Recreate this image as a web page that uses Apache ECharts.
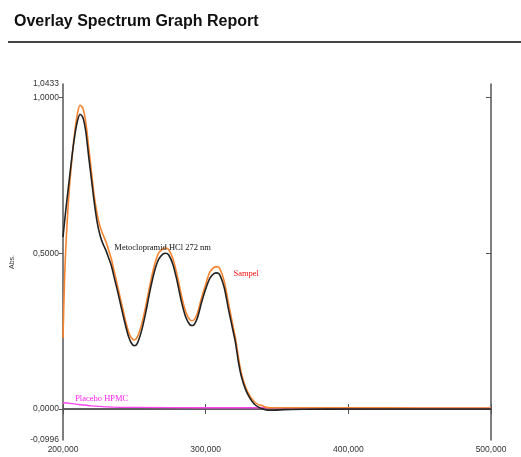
<!DOCTYPE html>
<html>
<head>
<meta charset="utf-8">
<script src="https://cdn.jsdelivr.net/npm/echarts@6/dist/echarts.min.js"></script>
<style>
  html, body { margin: 0; padding: 0; background: #fff; }
  #chart { width: 521px; height: 457px; }
</style>
</head>
<body>
<div id="chart"></div>
<script>
// Reference standard: Metoclopramid HCl (nm, absorbance)
const refNm  = [200, 202, 204, 206, 208, 210, 212, 214, 216, 218, 220, 222, 224, 226, 228, 230, 232, 234, 236, 238, 240, 242, 244, 246, 248, 250, 252, 255, 258, 261, 264, 267, 270, 272, 274, 277, 280, 283, 286, 289, 291, 294, 297, 300, 303, 306, 308, 310, 313, 316, 319, 321, 323, 325, 328, 331, 334, 337, 340, 344, 348, 355, 370, 400, 450, 500];
const refAbs = [0.552, 0.64, 0.72, 0.80, 0.87, 0.922, 0.946, 0.935, 0.89, 0.81, 0.735, 0.66, 0.598, 0.557, 0.53, 0.51, 0.485, 0.458, 0.42, 0.383, 0.343, 0.303, 0.265, 0.232, 0.211, 0.203, 0.21, 0.25, 0.31, 0.38, 0.44, 0.48, 0.497, 0.50, 0.495, 0.465, 0.41, 0.345, 0.295, 0.27, 0.268, 0.29, 0.34, 0.385, 0.42, 0.435, 0.437, 0.43, 0.39, 0.32, 0.255, 0.21, 0.15, 0.105, 0.062, 0.035, 0.016, 0.006, 0.0, -0.004, -0.004, -0.002, -0.001, 0.0, 0.0, 0.0];

// Sample spectrum (Sampel)
const sampleNm  = [200, 201, 202, 204, 206, 208, 210, 212, 214, 216, 218, 220, 222, 224, 226, 228, 230, 232, 234, 236, 238, 240, 242, 244, 246, 248, 250, 252, 255, 258, 261, 264, 267, 270, 272, 274, 277, 280, 283, 286, 289, 291, 294, 297, 300, 303, 306, 308, 310, 313, 316, 319, 321, 323, 325, 328, 331, 334, 337, 340, 342, 345, 350, 400, 450, 500];
const sampleAbs = [0.228, 0.40, 0.52, 0.68, 0.79, 0.88, 0.945, 0.975, 0.965, 0.92, 0.84, 0.76, 0.68, 0.625, 0.585, 0.56, 0.538, 0.51, 0.48, 0.44, 0.40, 0.36, 0.32, 0.28, 0.247, 0.228, 0.222, 0.23, 0.27, 0.33, 0.40, 0.46, 0.50, 0.514, 0.517, 0.512, 0.483, 0.43, 0.365, 0.312, 0.286, 0.284, 0.305, 0.355, 0.40, 0.44, 0.455, 0.457, 0.45, 0.41, 0.34, 0.27, 0.225, 0.165, 0.115, 0.07, 0.042, 0.024, 0.014, 0.01, 0.006, 0.004, 0.004, 0.004, 0.003, 0.003];

// Placebo HPMC blank
const placeboNm  = [200, 205, 210, 220, 230, 250, 300, 350, 400, 450, 500];
const placeboAbs = [0.020, 0.018, 0.015, 0.010, 0.007, 0.005, 0.004, 0.004, 0.003, 0.003, 0.003];

// Axis ticks and labels
const xTicks = [200, 300, 400, 500];
const yMin = -0.0996, yMax = 1.0433;
const yLabelValues = [-0.0996, 0, 0.5, 1, 1.0433];
const yTickValues = [0, 0.5, 1];

// Curve annotations: [nm, absorbance, text]
const refNote = [236, 0.517, 'Metoclopramid HCl 272 nm'];
const sampleNote = [319.5, 0.433, 'Sampel'];
const placeboNote = [208.5, 0.032, 'Placebo HPMC'];

const pair = (xs, ys) => xs.map((x, i) => [x, ys[i]]);
const comma = (v, d) => v.toFixed(d).replace('.', ',');

const axisGray = '#555';
const sans = '"Liberation Sans", Arial, sans-serif';
const serif = '"Liberation Serif", "DejaVu Serif", serif';

function note(n, color) {
  return {
    symbol: 'circle', symbolSize: 0, silent: true,
    data: [{ coord: [n[0], n[1]], value: n[2] }],
    label: {
      show: true, position: 'right', distance: 0,
      formatter: n[2], color: color, fontFamily: serif, fontSize: 8.5
    }
  };
}

const chart = echarts.init(document.getElementById('chart'), null, { renderer: 'canvas' });
chart.setOption({
  animation: false,
  backgroundColor: '#fff',
  title: {
    text: 'Overlay Spectrum Graph Report',
    left: 9, top: 9,
    textStyle: { fontFamily: sans, fontWeight: 'bold', fontSize: 16, color: '#111' }
  },
  graphic: [{
    type: 'line', silent: true,
    shape: { x1: 8, y1: 42, x2: 521, y2: 42 },
    style: { stroke: '#444', lineWidth: 2 }
  }],
  grid: { left: 63, right: 30, top: 84, bottom: 17, outerBoundsMode: 'none', containLabel: false },
  xAxis: [{
    type: 'value', min: 200, max: 500, interval: 100,
    name: 'nm', nameLocation: 'middle', nameGap: 15,
    nameTextStyle: { fontSize: 7, color: '#333', fontFamily: sans },
    axisLine: { lineStyle: { color: axisGray, width: 1.5 } },
    axisTick: { inside: true, length: 5, lineStyle: { color: axisGray } },
    axisLabel: {
      customValues: xTicks, margin: 5, fontSize: 8.5, color: '#333',
      fontFamily: sans,
      formatter: v => comma(v, 3)
    },
    splitLine: { show: false }
  }, {
    type: 'value', position: 'top', min: 200, max: 500, interval: 100,
    axisLine: { show: true, lineStyle: { color: axisGray, width: 1.5 } },
    axisTick: { inside: true, length: 5, lineStyle: { color: axisGray } },
    axisLabel: { show: false },
    splitLine: { show: false }
  }],
  yAxis: [{
    type: 'value', min: yMin, max: yMax,
    name: 'Abs.', nameLocation: 'middle', nameGap: 47, nameRotate: 90,
    nameTextStyle: { fontSize: 7, color: '#333', fontFamily: sans },
    axisLine: { show: true, lineStyle: { color: axisGray, width: 1.5 } },
    axisTick: { show: true, customValues: yTickValues, inside: false, length: 4, lineStyle: { color: axisGray } },
    axisLabel: {
      customValues: yLabelValues, margin: 4, fontSize: 8.5, color: '#333',
      fontFamily: sans,
      formatter: v => comma(v, 4)
    },
    splitLine: { show: false }
  }, {
    type: 'value', position: 'right', min: yMin, max: yMax,
    axisLine: { show: true, lineStyle: { color: axisGray, width: 1.5 } },
    axisTick: { show: true, customValues: yTickValues, inside: true, length: 5, lineStyle: { color: axisGray } },
    axisLabel: { show: false },
    splitLine: { show: false }
  }],
  series: [{
    name: 'Placebo HPMC', type: 'line', smooth: 0.3, showSymbol: false,
    data: pair(placeboNm, placeboAbs),
    lineStyle: { color: '#ff44ee', width: 1.3 },
    markPoint: note(placeboNote, '#ff22ee')
  }, {
    name: 'Sampel', type: 'line', smooth: 0.3, showSymbol: false,
    data: pair(sampleNm, sampleAbs),
    lineStyle: { color: '#f7842f', width: 1.6 },
    markPoint: note(sampleNote, '#ff1010')
  }, {
    name: 'Metoclopramid HCl', type: 'line', smooth: 0.3, showSymbol: false,
    data: pair(refNm, refAbs),
    lineStyle: { color: '#222', width: 1.6 },
    markPoint: note(refNote, '#111')
  }]
});
</script>
</body>
</html>
